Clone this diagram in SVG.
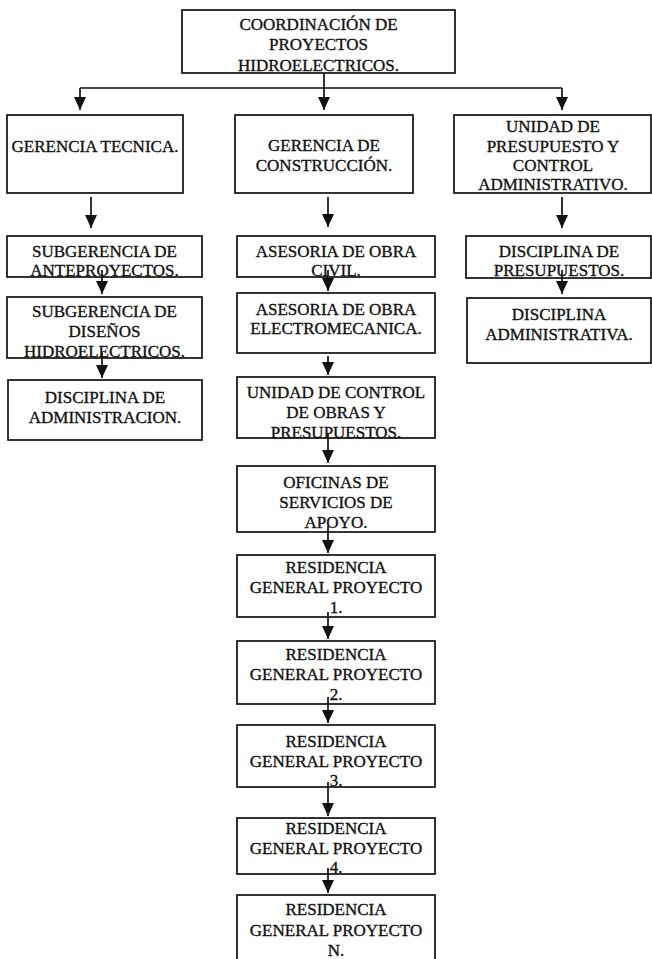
<svg xmlns="http://www.w3.org/2000/svg" width="652" height="959" viewBox="0 0 652 959">
<style>
.box{fill:none;stroke:#111;stroke-width:1.7}
.t{font-family:"Liberation Serif","Times New Roman",serif;font-size:17px;fill:#111;stroke:#111;stroke-width:0.35;text-anchor:middle}
.c{stroke:#111;stroke-width:1.7;fill:none}
</style>
<defs>
<marker id="ah" markerUnits="userSpaceOnUse" markerWidth="13" markerHeight="12" refX="13" refY="6" orient="auto">
<path d="M0,0 L13,6 L0,12 z" fill="#111"/>
</marker>
</defs>
<rect width="652" height="959" fill="#fff"/>

<g id="connectors">
<line class="c" x1="80" y1="88" x2="562" y2="88"/>
<line class="c" x1="80" y1="88" x2="80" y2="110" marker-end="url(#ah)"/>
<line class="c" x1="324" y1="73" x2="324" y2="110" marker-end="url(#ah)"/>
<line class="c" x1="562" y1="88" x2="562" y2="110" marker-end="url(#ah)"/>

<line class="c" x1="91" y1="197" x2="91" y2="228" marker-end="url(#ah)"/>
<line class="c" x1="102" y1="270" x2="102" y2="294" marker-end="url(#ah)"/>
<line class="c" x1="102" y1="352" x2="102" y2="378" marker-end="url(#ah)"/>

<line class="c" x1="328" y1="197" x2="328" y2="227" marker-end="url(#ah)"/>
<line class="c" x1="328" y1="270" x2="328" y2="291" marker-end="url(#ah)"/>
<line class="c" x1="328" y1="356" x2="328" y2="375" marker-end="url(#ah)"/>
<line class="c" x1="328" y1="433" x2="328" y2="463" marker-end="url(#ah)"/>
<line class="c" x1="328" y1="526" x2="328" y2="553" marker-end="url(#ah)"/>
<line class="c" x1="328" y1="612" x2="328" y2="639" marker-end="url(#ah)"/>
<line class="c" x1="328" y1="697" x2="328" y2="723" marker-end="url(#ah)"/>
<line class="c" x1="328" y1="782" x2="328" y2="816" marker-end="url(#ah)"/>
<line class="c" x1="328" y1="868" x2="328" y2="893" marker-end="url(#ah)"/>

<line class="c" x1="562" y1="197" x2="562" y2="228" marker-end="url(#ah)"/>
<line class="c" x1="562" y1="270" x2="562" y2="294" marker-end="url(#ah)"/>
</g>

<g id="n-coordinacion">
<rect class="box" x="182" y="10" width="273" height="63"/>
<text class="t" x="318.5" y="30">COORDINACIÓN DE</text>
<text class="t" x="318.5" y="50">PROYECTOS</text>
<text class="t" x="318.5" y="71">HIDROELECTRICOS.</text>
</g>

<g id="n-gerencia-tecnica">
<rect class="box" x="7" y="115" width="176" height="78"/>
<text class="t" x="95" y="152">GERENCIA TECNICA.</text>
</g>

<g id="n-gerencia-construccion">
<rect class="box" x="235" y="115" width="178" height="78"/>
<text class="t" x="324" y="151">GERENCIA DE</text>
<text class="t" x="324" y="171">CONSTRUCCIÓN.</text>
</g>

<g id="n-unidad-presupuesto">
<rect class="box" x="454" y="115" width="197" height="78"/>
<text class="t" x="553" y="132">UNIDAD DE</text>
<text class="t" x="553" y="152">PRESUPUESTO Y</text>
<text class="t" x="553" y="171">CONTROL</text>
<text class="t" x="553" y="190">ADMINISTRATIVO.</text>
</g>

<g id="n-subgerencia-anteproyectos">
<rect class="box" x="7" y="236" width="195" height="41"/>
<text class="t" x="104.5" y="257">SUBGERENCIA DE</text>
<text class="t" x="104.5" y="276">ANTEPROYECTOS.</text>
</g>

<g id="n-subgerencia-disenos">
<rect class="box" x="7" y="297" width="195" height="61"/>
<text class="t" x="104.5" y="317">SUBGERENCIA DE</text>
<text class="t" x="104.5" y="337">DISEÑOS</text>
<text class="t" x="104.5" y="357">HIDROELECTRICOS.</text>
</g>

<g id="n-disciplina-administracion">
<rect class="box" x="8" y="380" width="194" height="60"/>
<text class="t" x="105" y="403">DISCIPLINA DE</text>
<text class="t" x="105" y="423">ADMINISTRACION.</text>
</g>

<g id="n-asesoria-civil">
<rect class="box" x="237" y="236" width="198" height="41"/>
<text class="t" x="336" y="257">ASESORIA DE OBRA</text>
<text class="t" x="336" y="276">CIVIL.</text>
</g>

<g id="n-asesoria-electromecanica">
<rect class="box" x="237" y="293" width="198" height="60"/>
<text class="t" x="336" y="315">ASESORIA DE OBRA</text>
<text class="t" x="336" y="334">ELECTROMECANICA.</text>
</g>

<g id="n-unidad-control">
<rect class="box" x="237" y="377" width="198" height="61"/>
<text class="t" x="336" y="398">UNIDAD DE CONTROL</text>
<text class="t" x="336" y="418">DE OBRAS Y</text>
<text class="t" x="336" y="438">PRESUPUESTOS.</text>
</g>

<g id="n-oficinas">
<rect class="box" x="237" y="466" width="198" height="66"/>
<text class="t" x="336" y="488">OFICINAS DE</text>
<text class="t" x="336" y="508">SERVICIOS DE</text>
<text class="t" x="336" y="528">APOYO.</text>
</g>

<g id="n-residencia-1">
<rect class="box" x="237" y="555" width="198" height="62"/>
<text class="t" x="336" y="573">RESIDENCIA</text>
<text class="t" x="336" y="593">GENERAL PROYECTO</text>
<text class="t" x="336" y="613">1.</text>
</g>

<g id="n-residencia-2">
<rect class="box" x="237" y="641" width="198" height="63"/>
<text class="t" x="336" y="660">RESIDENCIA</text>
<text class="t" x="336" y="680">GENERAL PROYECTO</text>
<text class="t" x="336" y="700">2.</text>
</g>

<g id="n-residencia-3">
<rect class="box" x="237" y="725" width="198" height="62"/>
<text class="t" x="336" y="747">RESIDENCIA</text>
<text class="t" x="336" y="767">GENERAL PROYECTO</text>
<text class="t" x="336" y="786">3.</text>
</g>

<g id="n-residencia-4">
<rect class="box" x="237" y="818" width="198" height="56"/>
<text class="t" x="336" y="834">RESIDENCIA</text>
<text class="t" x="336" y="854">GENERAL PROYECTO</text>
<text class="t" x="336" y="873">4.</text>
</g>

<g id="n-residencia-n">
<rect class="box" x="237" y="895" width="198" height="68"/>
<text class="t" x="336" y="915">RESIDENCIA</text>
<text class="t" x="336" y="936">GENERAL PROYECTO</text>
<text class="t" x="336" y="956">N.</text>
</g>

<g id="n-disciplina-presupuestos">
<rect class="box" x="466" y="236" width="185" height="42"/>
<text class="t" x="559" y="257">DISCIPLINA DE</text>
<text class="t" x="559" y="276">PRESUPUESTOS.</text>
</g>

<g id="n-disciplina-administrativa">
<rect class="box" x="467" y="298" width="184" height="65"/>
<text class="t" x="559" y="320">DISCIPLINA</text>
<text class="t" x="559" y="340">ADMINISTRATIVA.</text>
</g>
</svg>
